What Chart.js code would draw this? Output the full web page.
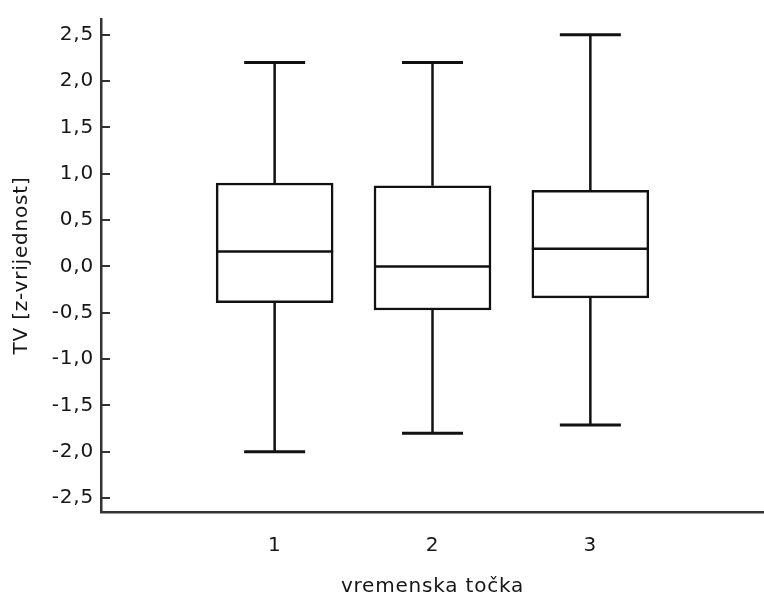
<!DOCTYPE html>
<html>
<head>
<meta charset="utf-8">
<title>TV po vremenskim točkama</title>
<script src="https://cdn.jsdelivr.net/npm/chart.js@4.4.1/dist/chart.umd.min.js"></script>
<style>
  html, body { margin: 0; padding: 0; background: #fff; }
  #wrap { width: 764px; height: 602px; }
</style>
</head>
<body>
<div id="wrap"><canvas id="boxChart" width="764" height="602"></canvas></div>
<script>
// vremenske točke i statistike kutijastog dijagrama
const timePoints = [1, 2, 3];
const xLabels = ['1', '2', '3'];
const whiskerLow = [-2.0, -1.8, -1.71];
const q1 = [-0.39, -0.47, -0.34];
const median = [0.16, 0.0, 0.19];
const q3 = [0.9, 0.87, 0.82];
const whiskerHigh = [2.2, 2.2, 2.5];
const yTicks = [-2.5, -2.0, -1.5, -1.0, -0.5, 0.0, 0.5, 1.0, 1.5, 2.0, 2.5];

const ink = '#111';
const textColor = '#161616';
const font = { family: '"DejaVu Sans", "Liberation Sans", sans-serif', size: 20 };
const boxWidth = 117;
const capWidth = 61;
const lineW = 2.5;

// malo širi razmak slova
const wideText = {
  id: 'wideText',
  beforeDraw(chart) { chart.ctx.letterSpacing = '0.8px'; }
};

// brkovi, medijane i unutarnje crtice na y osi
const boxPlotExtras = {
  id: 'boxPlotExtras',
  beforeDatasetsDraw(chart) {
    const { ctx, scales: { x, y } } = chart;
    ctx.save();
    ctx.strokeStyle = ink;
    timePoints.forEach((t, i) => {
      const cx = x.getPixelForValue(t);
      const yLo = y.getPixelForValue(whiskerLow[i]);
      const yHi = y.getPixelForValue(whiskerHigh[i]);
      ctx.lineWidth = lineW;
      ctx.beginPath();
      ctx.moveTo(cx, y.getPixelForValue(q1[i]));
      ctx.lineTo(cx, yLo);
      ctx.moveTo(cx, y.getPixelForValue(q3[i]));
      ctx.lineTo(cx, yHi);
      ctx.stroke();
      ctx.lineWidth = 3;
      ctx.beginPath();
      ctx.moveTo(cx - capWidth / 2, yLo);
      ctx.lineTo(cx + capWidth / 2, yLo);
      ctx.moveTo(cx - capWidth / 2, yHi);
      ctx.lineTo(cx + capWidth / 2, yHi);
      ctx.stroke();
    });
    ctx.restore();
  },
  afterDatasetsDraw(chart) {
    const { ctx, scales: { x, y }, chartArea } = chart;
    ctx.save();
    ctx.strokeStyle = ink;
    ctx.lineWidth = lineW;
    timePoints.forEach((t, i) => {
      const cx = x.getPixelForValue(t);
      const my = y.getPixelForValue(median[i]);
      ctx.beginPath();
      ctx.moveTo(cx - boxWidth / 2, my);
      ctx.lineTo(cx + boxWidth / 2, my);
      ctx.stroke();
    });
    ctx.strokeStyle = '#333';
    ctx.lineWidth = 2;
    yTicks.forEach(v => {
      const py = Math.round(y.getPixelForValue(v));
      ctx.beginPath();
      ctx.moveTo(chartArea.left, py);
      ctx.lineTo(chartArea.left + 9, py);
      ctx.stroke();
    });
    ctx.restore();
  }
};

new Chart(document.getElementById('boxChart'), {
  type: 'bar',
  data: {
    datasets: [{
      label: 'TV',
      data: timePoints.map((t, i) => ({ x: t, y: [q1[i], q3[i]] })),
      backgroundColor: '#ffffff',
      borderColor: ink,
      borderWidth: lineW,
      borderSkipped: false,
      barThickness: boxWidth
    }]
  },
  options: {
    responsive: false,
    animation: false,
    layout: { padding: { top: 15, left: 0, right: 0, bottom: 0 } },
    plugins: { legend: { display: false }, tooltip: { enabled: false } },
    scales: {
      x: {
        type: 'linear',
        offset: false,
        min: -0.1,
        max: 4.1,
        afterFit: s => { s.height = 90; },
        afterBuildTicks: s => { s.ticks = timePoints.map(v => ({ value: v })); },
        grid: { display: false, drawTicks: false },
        border: { display: true, color: '#333', width: 2.5 },
        ticks: {
          color: textColor,
          font,
          padding: 22,
          autoSkip: false,
          maxRotation: 0,
          callback: (v) => xLabels[timePoints.indexOf(v)]
        },
        title: {
          display: true,
          text: 'vremenska točka',
          color: textColor,
          font,
          padding: { top: 0, bottom: 3 }
        }
      },
      y: {
        min: -2.65,
        max: 2.67,
        afterFit: s => { s.width = 101; },
        afterBuildTicks: s => { s.ticks = yTicks.map(v => ({ value: v })); },
        grid: { display: false, drawTicks: false },
        border: { display: true, color: '#333', width: 2.5 },
        ticks: {
          color: textColor,
          font,
          padding: 7,
          callback: (v) => v.toFixed(1).replace('.', ',')
        },
        title: {
          display: true,
          text: 'TV [z-vrijednost]',
          color: textColor,
          font,
          padding: { top: 10, bottom: 0 }
        }
      }
    }
  },
  plugins: [wideText, boxPlotExtras]
});
</script>
</body>
</html>
